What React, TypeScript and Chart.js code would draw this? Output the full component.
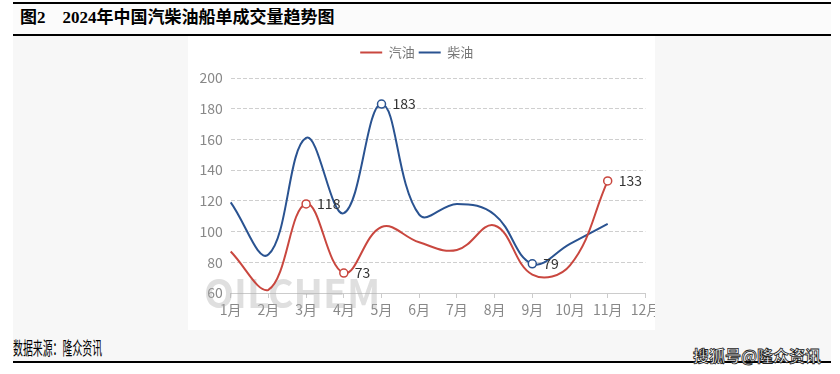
import React, { useEffect, useRef } from 'react';
import { Chart, registerables } from 'chart.js';

Chart.register(...registerables);

const months = ['1月', '2月', '3月', '4月', '5月', '6月', '7月', '8月', '9月', '10月', '11月', '12月'];
const gasoline = [87, 62, 118, 73, 103, 93, 88, 104, 72, 78, 133];
const diesel = [119, 85, 161, 112, 183, 111, 118, 111, 79, 92, 105];
const gasolineLabelIdx = [2, 3, 10];
const dieselLabelIdx = [4, 8];
const yTicksMin = 60;
const yTicksMax = 200;
const yTicksStep = 20;

const RED = '#c9473f';
const BLUE = '#2a5391';
const FONT = '"Microsoft YaHei", "Noto Sans CJK SC", sans-serif';

const labelIdx = [gasolineLabelIdx, dieselLabelIdx];

const legendSpacing = {
  id: 'legendSpacing',
  beforeInit(chart: any) {
    const orig = chart.legend.fit;
    chart.legend.fit = function fit() {
      orig.bind(chart.legend)();
      this.height += 9;
    };
  },
};

const watermark = {
  id: 'watermark',
  beforeDatasetsDraw(chart: any) {
    const ctx = chart.ctx;
    ctx.save();
    ctx.font = `bold 39px ${FONT}`;
    ctx.fillStyle = 'rgba(175,175,175,0.4)';
    ctx.textBaseline = 'alphabetic';
    ctx.textAlign = 'left';
    ctx.fillText('OILCHEM', 16, 272);
    ctx.restore();
  },
};

const valueLabels = {
  id: 'valueLabels',
  afterDatasetsDraw(chart: any) {
    const ctx = chart.ctx;
    ctx.save();
    ctx.font = `14px ${FONT}`;
    ctx.fillStyle = '#333';
    ctx.textBaseline = 'middle';
    ctx.textAlign = 'left';
    chart.data.datasets.forEach((ds: any, i: number) => {
      const meta = chart.getDatasetMeta(i);
      labelIdx[i].forEach((idx) => {
        const pt = meta.data[idx];
        if (pt) ctx.fillText(String(ds.data[idx]), pt.x + 11, pt.y);
      });
    });
    ctx.restore();
  },
};

function LineChart() {
  const ref = useRef<HTMLCanvasElement | null>(null);
  useEffect(() => {
    if (!ref.current) return;
    const radius = (i: number) => (ctx: any) => (labelIdx[i].includes(ctx.dataIndex) ? 4 : 0);
    const chart = new Chart(ref.current, {
      type: 'line',
      data: {
        labels: months,
        datasets: [
          {
            label: '汽油',
            data: gasoline,
            borderColor: RED,
            backgroundColor: RED,
            borderWidth: 2,
            tension: 0.4,
            pointRadius: radius(0),
            pointHoverRadius: radius(0),
            pointBackgroundColor: '#fff',
            pointBorderColor: RED,
            pointBorderWidth: 1.5,
          },
          {
            label: '柴油',
            data: diesel,
            borderColor: BLUE,
            backgroundColor: BLUE,
            borderWidth: 2,
            tension: 0.4,
            pointRadius: radius(1),
            pointHoverRadius: radius(1),
            pointBackgroundColor: '#fff',
            pointBorderColor: BLUE,
            pointBorderWidth: 1.5,
          },
        ],
      },
      options: {
        animation: false,
        responsive: false,
        maintainAspectRatio: false,
        layout: { padding: { top: 6, right: 22.6, left: 0, bottom: 0 } },
        plugins: {
          tooltip: { enabled: false },
          legend: {
            position: 'top',
            labels: {
              boxWidth: 22,
              boxHeight: 2,
              padding: 4,
              color: '#777',
              font: { size: 13, family: FONT },
              generateLabels: (chart: any) =>
                chart.data.datasets.map((ds: any, i: number) => ({
                  text: ds.label,
                  fillStyle: ds.borderColor,
                  strokeStyle: ds.borderColor,
                  lineWidth: 0,
                  hidden: false,
                  datasetIndex: i,
                  fontColor: '#777',
                })),
            },
          },
        },
        scales: {
          x: {
            offset: false,
            afterFit: (s: any) => {
              s.height = 37;
            },
            grid: {
              drawOnChartArea: false,
              drawTicks: true,
              tickLength: 5,
              color: '#ccc',
            },
            border: { display: true, color: '#ccc', width: 1 },
            ticks: {
              color: '#888',
              padding: 3,
              maxRotation: 0,
              autoSkip: false,
              font: { size: 14, family: FONT },
            },
          },
          y: {
            min: yTicksMin,
            max: yTicksMax,
            afterFit: (s: any) => {
              s.width = 42.7;
            },
            grid: {
              color: '#cfcfcf',
              drawTicks: false,
              lineWidth: 1,
            },
            border: { display: false, dash: [4, 2] },
            ticks: {
              stepSize: yTicksStep,
              color: '#888',
              padding: 8,
              font: { size: 14, family: FONT },
            },
          },
        },
      },
      plugins: [legendSpacing, watermark, valueLabels],
    } as any);
    return () => chart.destroy();
  }, []);
  return <canvas ref={ref} width={480} height={294} style={{ display: 'block', width: 480, height: 294 }} />;
}

export default function App() {
  return (
    <div style={{ position: 'absolute', left: 0, top: 0, width: 840, height: 374, background: '#fff', overflow: 'hidden' }}>
      <div style={{ position: 'absolute', left: 13, top: 3, width: 818, height: 32, background: '#fbfbfb' }} />
      <div style={{ position: 'absolute', left: 13, top: 36, width: 818, height: 326, background: '#f7f7f7' }} />
      <div style={{ position: 'absolute', left: 13, top: 2, width: 818, height: 2, background: '#000' }} />
      <div style={{ position: 'absolute', left: 13, top: 34, width: 818, height: 2, background: '#000' }} />
      <div style={{ position: 'absolute', left: 13, top: 361, width: 818, height: 2, background: '#000' }} />
      <div
        style={{
          position: 'absolute',
          left: 20,
          top: 7,
          fontFamily: '"Liberation Serif", "Noto Sans CJK SC", serif',
          fontWeight: 'bold',
          fontSize: 17,
          lineHeight: '22px',
          color: '#000',
          whiteSpace: 'nowrap',
        }}
      >
        图2<span style={{ display: 'inline-block', width: 17 }} />2024年中国汽柴油船单成交量趋势图
      </div>
      <div style={{ position: 'absolute', left: 188, top: 36, width: 467, height: 294, background: '#fff', overflow: 'hidden' }}>
        <LineChart />
      </div>
      <div
        style={{
          position: 'absolute',
          left: 13,
          top: 336,
          fontFamily: '"Noto Sans CJK SC", sans-serif',
          fontSize: 18,
          lineHeight: '22px',
          color: '#000',
          whiteSpace: 'nowrap',
          transform: 'scaleX(0.55)',
          transformOrigin: 'left center',
        }}
      >
        数据来源：隆众资讯
      </div>
      <div
        style={{
          position: 'absolute',
          left: 693,
          top: 345,
          fontFamily: '"Noto Sans CJK SC", sans-serif',
          fontWeight: 'bold',
          fontSize: 16,
          lineHeight: '20px',
          color: '#fff',
          whiteSpace: 'nowrap',
          WebkitTextStroke: '0.8px #222',
          letterSpacing: 0,
        }}
      >
        搜狐号@隆众资讯
      </div>
    </div>
  );
}
